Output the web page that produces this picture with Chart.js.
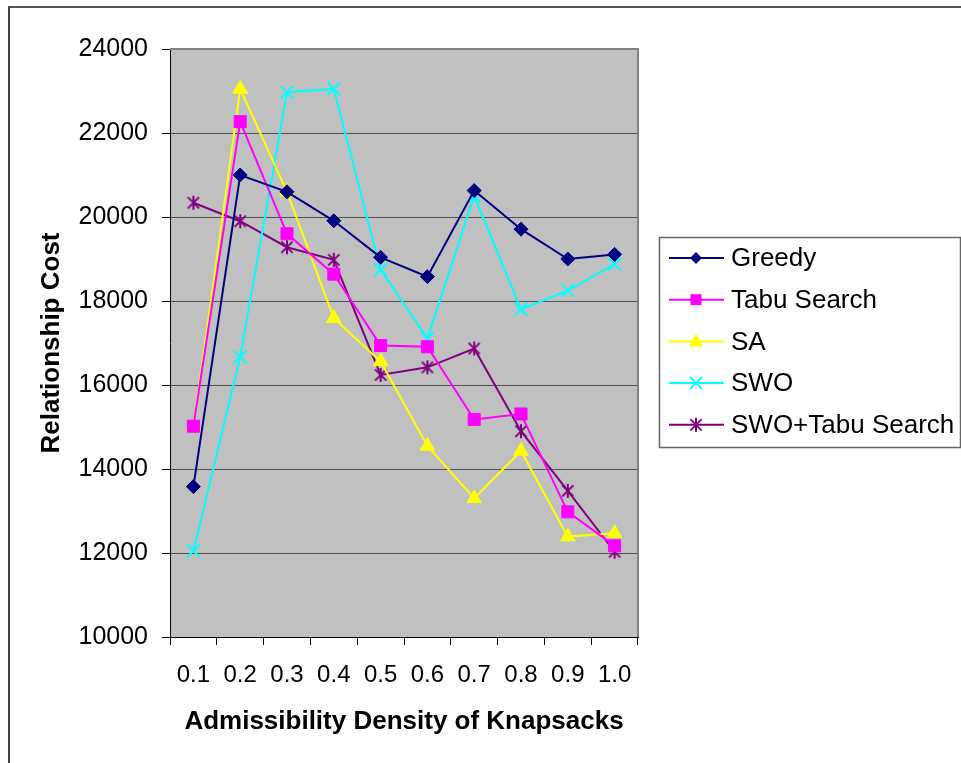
<!DOCTYPE html>
<html lang="en">
<head>
  <meta charset="UTF-8">
  <title>Relationship Cost vs Admissibility Density</title>
  <script src="https://cdn.jsdelivr.net/npm/chart.js"></script>
  <style>
    body { margin: 0; background: #fff; }
    .frame { position: absolute; left: 8px; top: 6px; width: 980px; height: 800px; border-left: 2px solid #444; border-top: 2px solid #555; }
    #cost-chart { position: absolute; left: 0; top: 0; }
  </style>
</head>
<body>
  <div class="frame"></div>
  <canvas id="cost-chart" width="961" height="763"></canvas>
  <script>
    // values
    const densities = ['0.1', '0.2', '0.3', '0.4', '0.5', '0.6', '0.7', '0.8', '0.9', '1.0'];
    const greedy   = [13580, 21000, 20600, 19910, 19040, 18580, 20630, 19710, 19000, 19110];
    const tabu     = [15020, 22270, 19600, 18640, 16940, 16910, 15180, 15310, 12980, 12170];
    const sa       = [15000, 23050, 20600, 17590, 16560, 14550, 13300, 14430, 12390, 12470];
    const swo      = [12050, 16670, 22970, 23050, 18740, 17110, 20500, 17800, 18250, 18880];
    const swoTabu  = [20340, 19900, 19280, 18980, 16240, 16420, 16870, 14900, 13480, 12030];
    const yTicks = { min: 10000, max: 24000, step: 2000 };

    const FONT = '"Liberation Sans", Arial, sans-serif';

    // excel style asterisk: an X with a vertical stroke
    function asterisk(color, r) {
      const c = document.createElement('canvas');
      c.width = c.height = r * 2 + 4;
      const g = c.getContext('2d');
      const m = r + 2, d = r * 0.8;
      g.strokeStyle = color; g.lineWidth = 2;
      g.beginPath();
      g.moveTo(m - d, m - d); g.lineTo(m + d, m + d);
      g.moveTo(m + d, m - d); g.lineTo(m - d, m + d);
      g.moveTo(m, m - r); g.lineTo(m, m + r);
      g.stroke();
      return c;
    }

    const series = [
      { label: 'Greedy', data: greedy, color: '#000080', style: 'rectRot', r: 7 },
      { label: 'Tabu Search', data: tabu, color: '#FF00FF', style: 'rect', r: 8.5 },
      { label: 'SA', data: sa, color: '#FFFF00', style: 'triangle', r: 8.5 },
      { label: 'SWO', data: swo, color: '#00FFFF', style: 'crossRot', r: 9 },
      { label: 'SWO+Tabu Search', data: swoTabu, color: '#800080', style: asterisk('#800080', 7), r: 7 }
    ];

    const plotBack = {
      id: 'plotBack',
      beforeDraw(chart) {
        const { ctx, chartArea: a } = chart;
        ctx.save();
        ctx.fillStyle = '#C0C0C0';
        ctx.fillRect(a.left, a.top, a.right - a.left, a.bottom - a.top);
        ctx.restore();
      },
      afterDatasetsDraw(chart) {
        const { ctx, chartArea: a } = chart;
        ctx.save();
        ctx.strokeStyle = '#808080'; ctx.lineWidth = 2;
        ctx.beginPath();
        ctx.moveTo(a.left, a.top); ctx.lineTo(a.right, a.top); ctx.lineTo(a.right, a.bottom);
        ctx.stroke();
        ctx.restore();
      }
    };

    function legendMark(ctx, s, x, y) {
      ctx.save();
      ctx.fillStyle = s.color; ctx.strokeStyle = s.color; ctx.lineWidth = 2;
      ctx.beginPath();
      if (s.style === 'rectRot') {
        ctx.moveTo(x, y - 6); ctx.lineTo(x + 6, y); ctx.lineTo(x, y + 6); ctx.lineTo(x - 6, y); ctx.closePath(); ctx.fill();
      } else if (s.style === 'rect') {
        ctx.fillRect(x - 5.5, y - 5.5, 11, 11);
      } else if (s.style === 'triangle') {
        ctx.moveTo(x, y - 8); ctx.lineTo(x + 7, y + 5); ctx.lineTo(x - 7, y + 5); ctx.closePath(); ctx.fill();
      } else if (s.style === 'crossRot') {
        ctx.moveTo(x - 6, y - 6); ctx.lineTo(x + 6, y + 6); ctx.moveTo(x + 6, y - 6); ctx.lineTo(x - 6, y + 6); ctx.stroke();
      } else {
        ctx.drawImage(s.style, x - s.style.width / 2, y - s.style.height / 2);
      }
      ctx.restore();
    }

    const sideLegend = {
      id: 'sideLegend',
      afterDraw(chart) {
        const ctx = chart.ctx;
        ctx.save();
        ctx.strokeStyle = '#666'; ctx.lineWidth = 1.5;
        ctx.strokeRect(659.5, 237.5, 301, 210);
        ctx.font = '26px ' + FONT;
        ctx.textBaseline = 'middle';
        ctx.fillStyle = '#000';
        series.forEach((s, i) => {
          const y = 258 + i * 41.7;
          ctx.strokeStyle = s.color; ctx.lineWidth = 2;
          ctx.beginPath(); ctx.moveTo(669, y); ctx.lineTo(724, y); ctx.stroke();
          legendMark(ctx, s, 696, y);
          ctx.fillStyle = '#000';
          ctx.fillText(s.label, 731, y + 1);
        });
        ctx.restore();
      }
    };

    new Chart(document.getElementById('cost-chart'), {
      type: 'line',
      data: {
        labels: densities,
        datasets: series.map(s => ({
          label: s.label,
          data: s.data,
          borderColor: s.color,
          backgroundColor: s.color,
          borderWidth: 2,
          pointStyle: s.style,
          pointRadius: s.r,
          pointHoverRadius: s.r,
          pointBorderWidth: s.style === 'crossRot' ? 2 : 1,
          tension: 0,
          fill: false
        }))
      },
      options: {
        responsive: false,
        devicePixelRatio: 1,
        animation: false,
        layout: { padding: { left: 0, top: 49, right: 323, bottom: 0 } },
        plugins: { legend: { display: false }, tooltip: { enabled: false } },
        scales: {
          x: {
            offset: true,
            grid: { offset: true, drawOnChartArea: false, drawTicks: true, tickLength: 8, color: '#000' },
            border: { color: '#000', width: 1 },
            ticks: { color: '#000', font: { family: FONT, size: 24 }, padding: 16, maxRotation: 0, autoSkip: false },
            title: { display: true, text: 'Admissibility Density of Knapsacks', color: '#000',
                     font: { family: FONT, size: 26, weight: 'bold' }, padding: { top: 0, bottom: 26 } },
            afterFit(scale) { scale.height = 126; }
          },
          y: {
            min: yTicks.min,
            max: yTicks.max,
            ticks: { stepSize: yTicks.step, color: '#000', font: { family: FONT, size: 25 }, padding: 14,
                     callback: v => String(v) },
            grid: { color: '#505050', lineWidth: 1, tickLength: 8, tickColor: '#000' },
            border: { color: '#000', width: 1 },
            title: { display: true, text: 'Relationship Cost', color: '#000',
                     font: { family: FONT, size: 26, weight: 'bold' }, padding: { top: 36, bottom: 0 } },
            afterFit(scale) { scale.width = 170; }
          }
        }
      },
      plugins: [plotBack, sideLegend]
    });
  </script>
</body>
</html>
